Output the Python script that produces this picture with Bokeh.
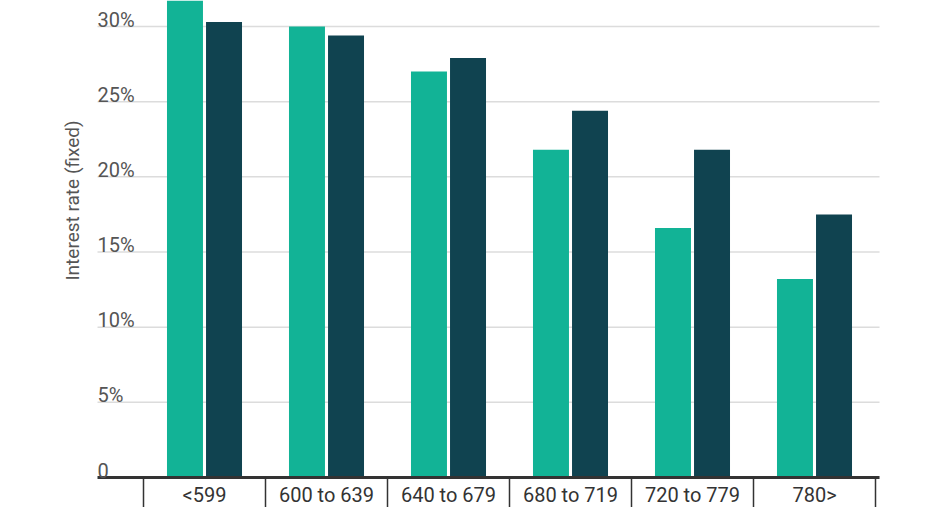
import numpy as np
from bokeh.plotting import figure
from bokeh.models import ColumnDataSource, Range1d, Label
from bokeh.transform import dodge
from bokeh.core.properties import value
from bokeh.embed import file_html
from bokeh.resources import INLINE

# ---- data ----
categories = ["<599", "600 to 639", "640 to 679", "680 to 719", "720 to 779", "780>"]
series_a = [32.0, 30.0, 27.0, 21.8, 16.6, 13.2]   # light green
series_b = [30.3, 29.4, 27.9, 24.4, 21.8, 17.5]   # dark teal
y_ticks = [0, 5, 10, 15, 20, 25, 30]
y_tick_labels = ["0", "5%", "10%", "15%", "20%", "25%", "30%"]
y_title = "Interest rate (fixed)"

GREEN = "#12b396"
DARK = "#104350"
FONT = "Roboto"

W, H = 915, 507
AXIS_Y = 477.0          # canvas y of the zero line
PX_PER_UNIT = (AXIS_Y - 26.0) / 30.0
X0_PX, CAT_PX = 143.0, 122.0

p = figure(width=W, height=H, output_backend="svg", toolbar_location=None,
           x_range=Range1d(-X0_PX / CAT_PX, (W - X0_PX) / CAT_PX),
           y_range=Range1d(-(H - AXIS_Y) / PX_PER_UNIT, AXIS_Y / PX_PER_UNIT),
           x_axis_location=None, y_axis_location=None, min_border=0,
           outline_line_color=None, background_fill_color="white")
p.grid.visible = False

idx = np.arange(len(categories)) + 0.5
src = ColumnDataSource(dict(x=idx, a=series_a, b=series_b, cat=categories))

# gridlines (excluding zero, which is the axis line)
gx0, gx1 = -0.377, 6.033
gt = [t for t in y_ticks if t != 0]
p.segment(x0=[gx0] * len(gt), x1=[gx1] * len(gt), y0=gt, y1=gt,
          line_color="#dcdcdc", line_width=1.5)

# bars
p.vbar(x=dodge("x", -0.16, range=p.x_range), top="a", width=0.295, bottom=0,
       source=src, fill_color=GREEN, line_color=None)
p.vbar(x=dodge("x", 0.16, range=p.x_range), top="b", width=0.295, bottom=0,
       source=src, fill_color=DARK, line_color=None)

# axis line
p.segment(x0=[gx0], x1=[gx1], y0=[0], y1=[0], line_color="#333333", line_width=3)

# category separators
seps = list(np.arange(len(categories) + 1))
p.segment(x0=seps, x1=seps, y0=[0] * len(seps), y1=[-5] * len(seps),
          line_color="#333333", line_width=1.5)

# category labels
p.text(x="x", y=0, text="cat", source=src, text_align="center", text_baseline="top",
       y_offset=5, text_font=value(FONT), text_font_size="20px", text_color="#333333")

# y tick labels (above the gridlines, left aligned)
p.text(x=[gx0] * len(y_ticks), y=y_ticks, text=y_tick_labels, text_align="left",
       text_baseline="alphabetic", y_offset=-7, text_font=value(FONT),
       text_font_size="20px", text_color="#555555")

# y axis title
p.add_layout(Label(x=72, y=H - 200, x_units="screen", y_units="screen", text=y_title,
                   angle=np.pi / 2, text_align="center", text_baseline="middle",
                   text_font=FONT, text_font_size="19px", text_color="#555555"))

open("out.html", "w").write(file_html(p, INLINE))
